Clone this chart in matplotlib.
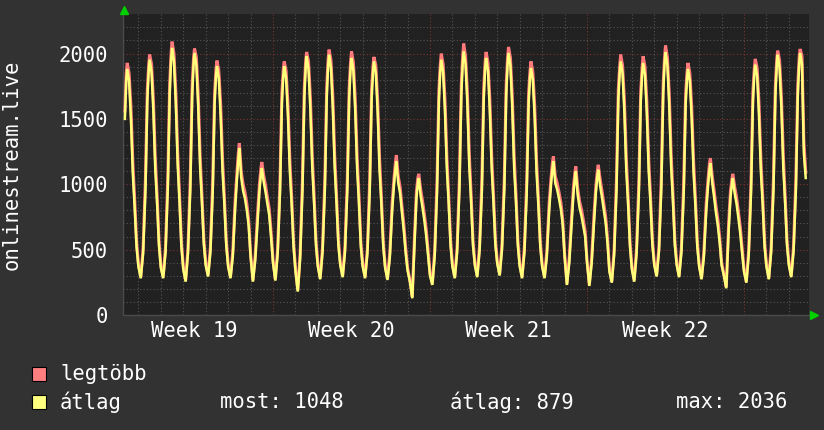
import numpy as np
import matplotlib
matplotlib.use("Agg")
import matplotlib.pyplot as plt
from matplotlib.patches import Rectangle

# sample hours within each day
hours = [0, 2.5, 5, 7.5, 9.5, 11, 12, 14, 16, 18, 20, 22]
nan = np.nan

# atlag (average), one row per day, day 0 = Monday of week 19
atlag = [
    [nan, nan, nan, nan, 1500, 1800, 1882, 1790, 1500, 1080, 820, 520],
    [370, 281, 470, 950, 1640, 1870, 1953, 1860, 1560, 1120, 850, 530],
    [360, 281, 480, 980, 1700, 1960, 2043, 1940, 1620, 1150, 860, 520],
    [350, 255, 470, 960, 1680, 1920, 2004, 1910, 1590, 1130, 850, 540],
    [380, 294, 480, 940, 1620, 1830, 1902, 1810, 1520, 1100, 840, 530],
    [370, 281, 450, 820, 1050, 1200, 1277, 1050, 950, 890, 800, 680],
    [450, 255, 420, 720, 950, 1070, 1124, 1020, 940, 850, 760, 590],
    [400, 263, 470, 940, 1620, 1830, 1902, 1810, 1520, 1100, 840, 520],
    [340, 179, 430, 950, 1660, 1900, 1979, 1880, 1570, 1130, 850, 530],
    [370, 273, 480, 960, 1670, 1910, 1991, 1890, 1580, 1130, 850, 530],
    [380, 289, 480, 950, 1660, 1890, 1966, 1870, 1560, 1120, 850, 520],
    [370, 281, 470, 950, 1650, 1860, 1940, 1850, 1550, 1110, 840, 520],
    [360, 268, 440, 800, 1000, 1120, 1175, 1010, 930, 780, 640, 470],
    [340, 255, 128, 560, 900, 1010, 1047, 910, 820, 720, 600, 450],
    [300, 230, 450, 940, 1640, 1870, 1953, 1860, 1560, 1120, 850, 530],
    [370, 281, 480, 970, 1690, 1930, 2017, 1920, 1610, 1140, 860, 530],
    [380, 289, 490, 950, 1660, 1890, 1966, 1870, 1560, 1120, 850, 530],
    [390, 302, 500, 960, 1680, 1920, 2004, 1910, 1590, 1130, 860, 530],
    [370, 281, 480, 940, 1620, 1820, 1889, 1800, 1510, 1090, 830, 520],
    [370, 281, 450, 800, 1000, 1120, 1175, 1010, 960, 890, 810, 690],
    [450, 230, 400, 700, 930, 1050, 1098, 920, 820, 760, 680, 600],
    [400, 222, 400, 710, 940, 1060, 1111, 990, 900, 800, 700, 540],
    [330, 247, 460, 950, 1650, 1860, 1940, 1850, 1550, 1110, 840, 520],
    [350, 255, 470, 940, 1640, 1850, 1927, 1840, 1540, 1100, 840, 530],
    [380, 294, 490, 970, 1690, 1930, 2009, 1910, 1600, 1140, 860, 530],
    [380, 289, 480, 940, 1610, 1810, 1882, 1790, 1500, 1090, 830, 520],
    [370, 273, 440, 790, 990, 1110, 1162, 1010, 900, 780, 680, 550],
    [380, 300, 204, 640, 900, 1000, 1047, 930, 850, 740, 620, 470],
    [330, 247, 460, 940, 1630, 1840, 1915, 1830, 1530, 1100, 840, 520],
    [370, 273, 480, 960, 1670, 1910, 1991, 1890, 1580, 1130, 850, 530],
    [380, 289, 490, 960, 1680, 1920, 2004, 1920, 1240, 1048, nan, nan],
]

# legtobb (maximum)
legtobb = [
    [nan, nan, nan, nan, 1560, 1850, 1928, 1850, 1590, 1170, 880, 560],
    [390, 290, 510, 1040, 1720, 1920, 1992, 1920, 1650, 1210, 910, 570],
    [380, 290, 520, 1070, 1780, 2010, 2091, 2000, 1710, 1240, 920, 560],
    [370, 265, 510, 1050, 1760, 1970, 2038, 1970, 1680, 1220, 910, 580],
    [400, 304, 520, 1030, 1700, 1880, 1946, 1870, 1610, 1190, 900, 570],
    [390, 290, 490, 880, 1100, 1250, 1315, 1100, 1000, 940, 850, 720],
    [470, 265, 460, 780, 1000, 1120, 1170, 1070, 990, 900, 810, 630],
    [420, 273, 510, 1030, 1700, 1880, 1940, 1870, 1610, 1190, 900, 560],
    [360, 189, 470, 1040, 1740, 1950, 2012, 1940, 1660, 1220, 910, 570],
    [390, 283, 520, 1050, 1750, 1960, 2030, 1950, 1670, 1220, 910, 570],
    [400, 299, 520, 1040, 1740, 1940, 2017, 1930, 1650, 1210, 910, 560],
    [390, 291, 510, 1040, 1730, 1910, 1974, 1910, 1640, 1200, 900, 560],
    [380, 278, 480, 860, 1050, 1170, 1223, 1060, 980, 830, 690, 510],
    [360, 265, 140, 620, 950, 1050, 1080, 960, 870, 770, 650, 490],
    [320, 240, 490, 1030, 1720, 1920, 1999, 1920, 1650, 1210, 910, 570],
    [390, 291, 520, 1060, 1770, 1990, 2076, 1980, 1700, 1230, 920, 570],
    [400, 299, 530, 1040, 1740, 1940, 2012, 1930, 1650, 1210, 910, 570],
    [410, 312, 540, 1050, 1760, 1970, 2050, 1970, 1680, 1220, 920, 570],
    [390, 291, 520, 1030, 1700, 1870, 1940, 1860, 1600, 1180, 890, 560],
    [390, 291, 490, 860, 1050, 1170, 1213, 1060, 1010, 940, 860, 730],
    [470, 240, 440, 760, 980, 1090, 1136, 970, 870, 810, 730, 640],
    [420, 232, 440, 770, 990, 1100, 1149, 1040, 950, 850, 750, 580],
    [350, 257, 500, 1040, 1730, 1910, 1992, 1910, 1640, 1200, 900, 560],
    [370, 265, 510, 1030, 1720, 1900, 1979, 1900, 1630, 1190, 900, 570],
    [400, 304, 530, 1060, 1770, 1980, 2061, 1970, 1690, 1230, 920, 570],
    [400, 299, 520, 1030, 1690, 1860, 1928, 1850, 1590, 1180, 890, 560],
    [390, 283, 480, 850, 1040, 1160, 1200, 1060, 950, 830, 730, 590],
    [400, 310, 214, 700, 950, 1040, 1080, 980, 900, 790, 670, 510],
    [350, 257, 500, 1030, 1710, 1890, 1959, 1890, 1620, 1190, 900, 560],
    [390, 283, 520, 1050, 1750, 1960, 2022, 1950, 1670, 1220, 910, 570],
    [400, 299, 530, 1050, 1760, 1970, 2035, 1980, 1330, 1090, nan, nan],
]

week_labels = ["Week 19", "Week 20", "Week 21", "Week 22"]
week_centers = [3.5, 10.5, 17.5, 24.5]
legend_stats = ["most: 1048", "átlag: 879", "max: 2036"]

# build time axis in days
x = np.array([d + h / 24.0 for d in range(len(atlag)) for h in hours])
y_avg = np.array(atlag, dtype=float).ravel()
y_max = np.array(legtobb, dtype=float).ravel()
ok = ~np.isnan(y_avg)

W, H = 824, 430
bg = "#323232"
plot_bg = "#212121"
font = "DejaVu Sans Mono"
fs = 14.8

fig = plt.figure(figsize=(W / 100, H / 100), dpi=100, facecolor=bg)
ax = fig.add_axes([123.5 / W, (H - 315) / H, (809 - 123.5) / W, (315 - 14.3) / H])
ax.set_facecolor(plot_bg)

x0 = (123.5 - 116) / 22.43
x1 = (809 - 116) / 22.43
ax.set_xlim(x0, x1)
ax.set_ylim(0, 2300)

# grid
for v in range(100, 2300, 100):
    c = "#7a3434" if v % 500 == 0 else "#555555"
    ax.axhline(v, color=c, lw=0.8, ls=(0, (1, 2)), zorder=1)
for d in range(1, 31):
    c = "#7a3434" if d % 7 == 0 else "#555555"
    ax.axvline(d, color=c, lw=0.8, ls=(0, (1, 2)), zorder=1)

ax.plot(x[ok], y_max[ok], color="#ff7a7a", lw=2.2, zorder=3, solid_joinstyle="miter")
ax.plot(x[ok], y_avg[ok], color="#ffff7a", lw=1.8, zorder=4, solid_joinstyle="miter")

for s in ["top", "right"]:
    ax.spines[s].set_visible(False)
for s in ["left", "bottom"]:
    ax.spines[s].set_color("#4a4a4a")
    ax.spines[s].set_linewidth(1)

ax.set_yticks([0, 500, 1000, 1500, 2000])
ax.set_yticklabels(["0", "500", "1000", "1500", "2000"], fontsize=fs,
                   family=font, color="white")
ax.set_xticks(week_centers)
ax.set_xticklabels(week_labels, fontsize=fs, family=font, color="white")
ax.tick_params(axis="y", length=0, pad=11.5)
ax.tick_params(axis="x", length=0, pad=4)

fig.text(12 / W, 1 - 165 / H, "onlinestream.live", rotation=90, ha="center",
         va="center", fontsize=fs, family=font, color="white")

# green arrows
fig.lines.append(plt.Line2D([124 / W], [1 - 10 / H], marker="^", ms=6,
                            color="#00d000", transform=fig.transFigure))
fig.lines.append(plt.Line2D([814 / W], [1 - 315 / H], marker=">", ms=6,
                            color="#00d000", transform=fig.transFigure))

# legend
for yc, col, lab in [(374, "#ff7f7f", "legtöbb"), (402, "#ffff7f", "átlag")]:
    fig.patches.append(Rectangle((32 / W, 1 - (yc + 7) / H), 14 / W, 14 / H,
                                 facecolor=col, edgecolor="black", lw=0.8,
                                 transform=fig.transFigure))
    fig.text(60 / W, 1 - yc / H, lab, ha="left", va="center", fontsize=fs,
             family=font, color="white")
for xs, t in zip([220, 450, 676], legend_stats):
    fig.text(xs / W, 1 - 402 / H, t, ha="left", va="center", fontsize=fs,
             family=font, color="white")

fig.savefig("out.png", dpi=100, facecolor=bg)
